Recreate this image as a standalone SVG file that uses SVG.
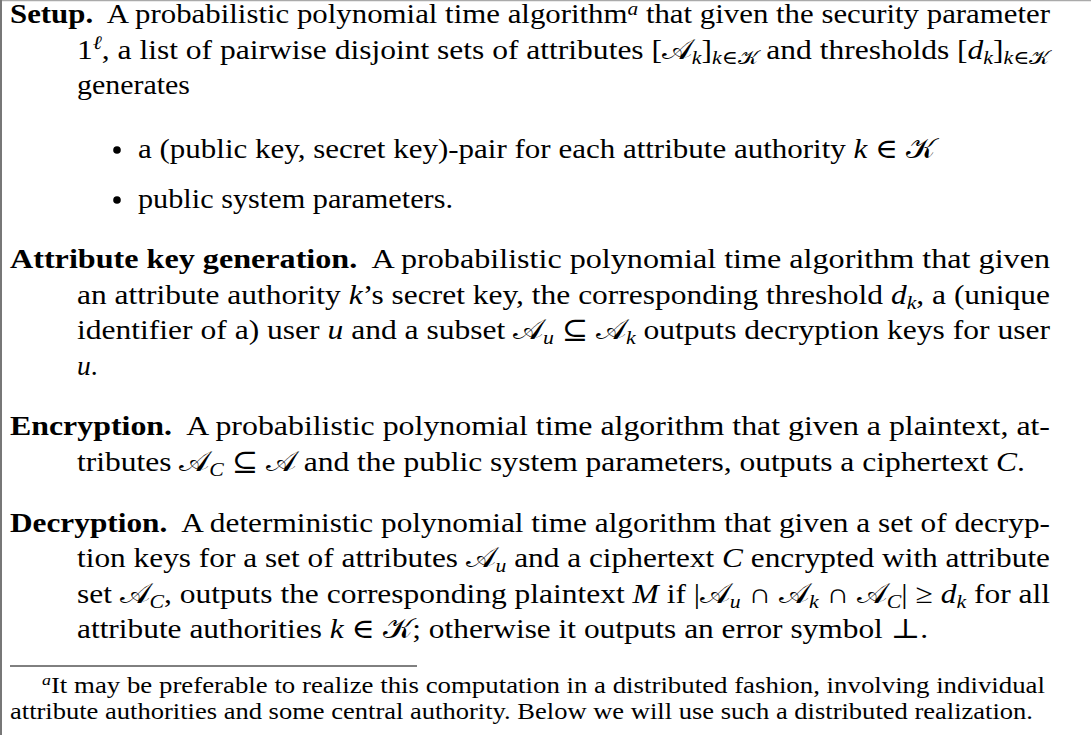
<svg xmlns="http://www.w3.org/2000/svg" width="1091" height="735" viewBox="0 0 1091 735">
<style>
text{font-family:"Liberation Serif","DejaVu Serif",serif;font-size:27.5px;fill:#000}
.b{font-weight:bold}
.i{font-style:italic}
.s{font-size:19px}
.f{font-size:22.5px}
.fs{font-size:15px}
.cal{font-size:28px}
.scal{font-size:19px}
</style>
<rect width="1091" height="735" fill="#fff"/>
<line x1="0" y1="0.5" x2="1091" y2="0.5" stroke="#aaa" stroke-width="1.5"/>
<line x1="1" y1="0" x2="1" y2="735" stroke="#777" stroke-width="2"/>
<g id="setup">
<text x="10" y="23" textLength="1040" lengthAdjust="spacingAndGlyphs"><tspan class="b">Setup.</tspan>&#160; A probabilistic polynomial time algorithm<tspan class="s i" dy="-8">a</tspan><tspan dy="8"> that given the security parameter</tspan></text>
<text x="77" y="58.5" textLength="973" lengthAdjust="spacingAndGlyphs">1<tspan class="s i" dy="-10">ℓ</tspan><tspan dy="10">, a list of pairwise disjoint sets of attributes [</tspan><tspan class="cal">𝒜</tspan><tspan class="s i" dy="5">k</tspan><tspan dy="-5">]</tspan><tspan class="s i" dy="5">k</tspan><tspan class="s">∈</tspan><tspan class="scal">𝒦</tspan><tspan dy="-5"> and thresholds [</tspan><tspan class="i">d</tspan><tspan class="s i" dy="5">k</tspan><tspan dy="-5">]</tspan><tspan class="s i" dy="5">k</tspan><tspan class="s">∈</tspan><tspan class="scal">𝒦</tspan></text>
<text x="77" y="94" textLength="113" lengthAdjust="spacingAndGlyphs">generates</text>
<circle cx="117" cy="150" r="3.8" fill="#000"/>
<text x="138" y="158" textLength="797" lengthAdjust="spacingAndGlyphs">a (public key, secret key)-pair for each attribute authority <tspan class="i">k</tspan> ∈ <tspan class="cal">𝒦</tspan></text>
<circle cx="117" cy="200" r="3.8" fill="#000"/>
<text x="138" y="208" textLength="315" lengthAdjust="spacingAndGlyphs">public system parameters.</text>
</g>
<g id="attrkeygen">
<text x="10" y="268" textLength="1040" lengthAdjust="spacingAndGlyphs"><tspan class="b">Attribute key generation.</tspan>&#160; A probabilistic polynomial time algorithm that given</text>
<text x="77" y="303.5" textLength="973" lengthAdjust="spacingAndGlyphs">an attribute authority <tspan class="i">k</tspan>’s secret key, the corresponding threshold <tspan class="i">d</tspan><tspan class="s i" dy="5">k</tspan><tspan dy="-5">, a (unique</tspan></text>
<text x="77" y="339" textLength="973" lengthAdjust="spacingAndGlyphs">identifier of a) user <tspan class="i">u</tspan> and a subset <tspan class="cal">𝒜</tspan><tspan class="s i" dy="5">u</tspan><tspan dy="-5"> ⊆ </tspan><tspan class="cal">𝒜</tspan><tspan class="s i" dy="5">k</tspan><tspan dy="-5"> outputs decryption keys for user</tspan></text>
<text x="77" y="374.5"><tspan class="i">u</tspan>.</text>
</g>
<g id="encryption">
<text x="10" y="435" textLength="1040" lengthAdjust="spacingAndGlyphs"><tspan class="b">Encryption.</tspan>&#160; A probabilistic polynomial time algorithm that given a plaintext, at-</text>
<text x="77" y="470.5" textLength="948" lengthAdjust="spacingAndGlyphs">tributes <tspan class="cal">𝒜</tspan><tspan class="s i" dy="5">C</tspan><tspan dy="-5"> ⊆ </tspan><tspan class="cal">𝒜</tspan> and the public system parameters, outputs a ciphertext <tspan class="i">C</tspan>.</text>
</g>
<g id="decryption">
<text x="10" y="531.5" textLength="1040" lengthAdjust="spacingAndGlyphs"><tspan class="b">Decryption.</tspan>&#160; A deterministic polynomial time algorithm that given a set of decryp-</text>
<text x="77" y="567" textLength="973" lengthAdjust="spacingAndGlyphs">tion keys for a set of attributes <tspan class="cal">𝒜</tspan><tspan class="s i" dy="5">u</tspan><tspan dy="-5"> and a ciphertext </tspan><tspan class="i">C</tspan> encrypted with attribute</text>
<text x="77" y="602.5" textLength="973" lengthAdjust="spacingAndGlyphs">set <tspan class="cal">𝒜</tspan><tspan class="s i" dy="5">C</tspan><tspan dy="-5">, outputs the corresponding plaintext </tspan><tspan class="i">M</tspan> if |<tspan class="cal">𝒜</tspan><tspan class="s i" dy="5">u</tspan><tspan dy="-5"> ∩ </tspan><tspan class="cal">𝒜</tspan><tspan class="s i" dy="5">k</tspan><tspan dy="-5"> ∩ </tspan><tspan class="cal">𝒜</tspan><tspan class="s i" dy="5">C</tspan><tspan dy="-5">| ≥ </tspan><tspan class="i">d</tspan><tspan class="s i" dy="5">k</tspan><tspan dy="-5"> for all</tspan></text>
<text x="77" y="638" textLength="851" lengthAdjust="spacingAndGlyphs">attribute authorities <tspan class="i">k</tspan> ∈ <tspan class="cal">𝒦</tspan>; otherwise it outputs an error symbol ⊥.</text>
</g>
<g id="footnote">
<line x1="10" y1="666" x2="417" y2="666" stroke="#000" stroke-width="1"/>
<text class="f" x="42" y="693" textLength="1003" lengthAdjust="spacingAndGlyphs"><tspan class="fs i" dy="-8">a</tspan><tspan dy="8">It may be preferable to realize this computation in a distributed fashion, involving individual</tspan></text>
<text class="f" x="10" y="719" textLength="1023" lengthAdjust="spacingAndGlyphs">attribute authorities and some central authority. Below we will use such a distributed realization.</text>
</g>
</svg>
